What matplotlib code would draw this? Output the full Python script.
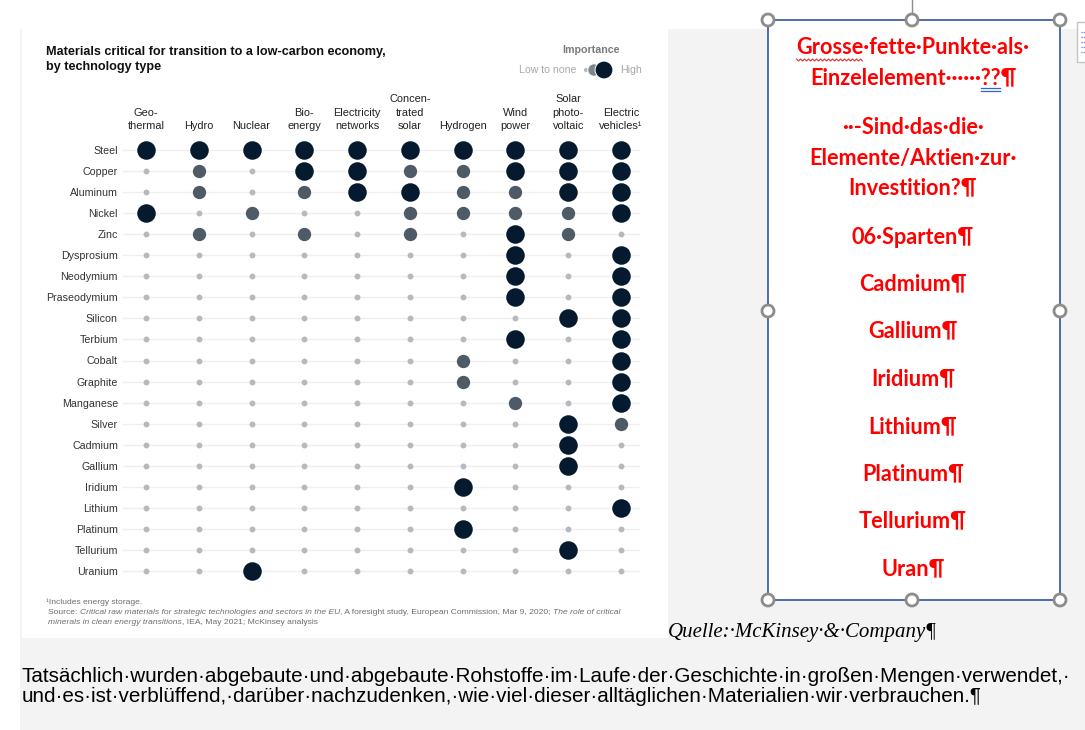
import matplotlib
matplotlib.use('Agg')
import matplotlib.pyplot as plt
from matplotlib.patches import Rectangle, Circle

techs = ['Geo-\nthermal', 'Hydro', 'Nuclear', 'Bio-\nenergy', 'Electricity\nnetworks',
         'Concen-\ntrated\nsolar', 'Hydrogen', 'Wind\npower', 'Solar\nphoto-\nvoltaic',
         'Electric\nvehicles¹']
materials = ['Steel', 'Copper', 'Aluminum', 'Nickel', 'Zinc', 'Dysprosium', 'Neodymium',
             'Praseodymium', 'Silicon', 'Terbium', 'Cobalt', 'Graphite', 'Manganese',
             'Silver', 'Cadmium', 'Gallium', 'Iridium', 'Lithium', 'Platinum',
             'Tellurium', 'Uranium']
# 0 = low to none, 1 = medium, 2 = high
importance = [
    [2, 2, 2, 2, 2, 2, 2, 2, 2, 2],
    [0, 1, 0, 2, 2, 1, 1, 2, 2, 2],
    [0, 1, 0, 1, 2, 2, 1, 1, 2, 2],
    [2, 0, 1, 0, 0, 1, 1, 1, 1, 2],
    [0, 1, 0, 1, 0, 1, 0, 2, 1, 0],
    [0, 0, 0, 0, 0, 0, 0, 2, 0, 2],
    [0, 0, 0, 0, 0, 0, 0, 2, 0, 2],
    [0, 0, 0, 0, 0, 0, 0, 2, 0, 2],
    [0, 0, 0, 0, 0, 0, 0, 0, 2, 2],
    [0, 0, 0, 0, 0, 0, 0, 2, 0, 2],
    [0, 0, 0, 0, 0, 0, 1, 0, 0, 2],
    [0, 0, 0, 0, 0, 0, 1, 0, 0, 2],
    [0, 0, 0, 0, 0, 0, 0, 1, 0, 2],
    [0, 0, 0, 0, 0, 0, 0, 0, 2, 1],
    [0, 0, 0, 0, 0, 0, 0, 0, 2, 0],
    [0, 0, 0, 0, 0, 0, 0, 0, 2, 0],
    [0, 0, 0, 0, 0, 0, 2, 0, 0, 0],
    [0, 0, 0, 0, 0, 0, 0, 0, 0, 2],
    [0, 0, 0, 0, 0, 0, 2, 0, 0, 0],
    [0, 0, 0, 0, 0, 0, 0, 0, 2, 0],
    [0, 0, 2, 0, 0, 0, 0, 0, 0, 0],
]
level_colors = ['#b6bac0', '#4e5a66', '#051a2e']
level_sizes = [18, 92, 178]

box_lines = ['Grosse·fette·Punkte·als·', 'Einzelelement······??¶', '··-Sind·das·die·',
             'Elemente/Aktien·zur·', 'Investition?¶', '06·Sparten¶', 'Cadmium¶', 'Gallium¶',
             'Iridium¶', 'Lithium¶', 'Platinum¶', 'Tellurium¶', 'Uran¶']
box_y = [47, 78, 127, 158, 188, 237, 284, 331, 379, 427, 474, 521, 569]
body_lines = ['Tatsächlich·wurden·abgebaute·und·abgebaute·Rohstoffe·im·Laufe·der·Geschichte·in·großen·Mengen·verwendet,·',
              'und·es·ist·verblüffend,·darüber·nachzudenken,·wie·viel·dieser·alltäglichen·Materialien·wir·verbrauchen.¶']

W, H = 1085, 730
fig = plt.figure(figsize=(W / 100, H / 100), dpi=100, facecolor='white')
renderer = fig.canvas.get_renderer()

page = fig.add_axes([0, 0, 1, 1], zorder=0)
page.set_xlim(0, W)
page.set_ylim(H, 0)
page.axis('off')

sans = 'Liberation Sans'


def width(s, **kw):
    t = page.text(0, 0, '|' + s + '|', **kw)
    w = t.get_window_extent(renderer).width
    t.remove()
    t = page.text(0, 0, '||', **kw)
    w -= t.get_window_extent(renderer).width
    t.remove()
    return w


def draw_runs(x, y, runs):
    for s, kw in runs:
        page.text(x, y, s, va='center', ha='left', **kw)
        x += width(s, **kw)


# page background, chart panel
page.add_patch(Rectangle((20, 29), W - 20, H - 29, color='#f3f3f3', lw=0))
page.add_patch(Rectangle((22, 29), 646, 609, color='white', lw=0))

# chart
ax = fig.add_axes([119.6 / W, 1 - 581.5 / H, 527.8 / W, 442 / H], zorder=2)
ax.set_facecolor('none')
n_rows, n_cols = len(materials), len(techs)
ax.set_xlim(-0.5, n_cols - 0.5)
ax.set_ylim(n_rows - 0.5, -0.5)
ax.hlines(range(n_rows), -0.45, 9.36, color='#efefef', lw=0.9, zorder=0, clip_on=False)
for level in range(3):
    xs = [c for r in range(n_rows) for c in range(n_cols) if importance[r][c] == level]
    ys = [r for r in range(n_rows) for c in range(n_cols) if importance[r][c] == level]
    ax.scatter(xs, ys, s=level_sizes[level], color=level_colors[level], lw=0, zorder=3)
ax.set_yticks(range(n_rows))
ax.set_yticklabels(materials, fontsize=7.7, color='#333333', family=sans)
ax.xaxis.tick_top()
ax.set_xticks(range(n_cols))
ax.set_xticklabels(techs, fontsize=7.9, color='#222222', family=sans)
for lab in ax.get_xticklabels():
    lab.set_linespacing(1.42)
ax.tick_params(axis='both', length=0)
ax.tick_params(axis='y', pad=1.2)
ax.tick_params(axis='x', pad=6)
for sp in ax.spines.values():
    sp.set_visible(False)

# title and legend
page.text(46, 52, 'Materials critical for transition to a low-carbon economy,', fontsize=9.1,
          weight='bold', color='#111111', family=sans, va='center')
page.text(46, 67, 'by technology type', fontsize=9.1, weight='bold', color='#111111',
          family=sans, va='center')
page.text(591, 50, 'Importance', fontsize=7.7, weight='bold', color='#7a7a7a', family=sans,
          ha='center', va='center')
page.text(576, 70, 'Low to none', fontsize=7.6, color='#a8a8a8', family=sans, ha='right', va='center')
page.text(620, 70, 'High', fontsize=7.6, color='#a8a8a8', family=sans, ha='left', va='center')
page.scatter([586, 594, 604], [70, 70, 70], s=[14, 80, 165], color=['#b6bac0', '#7d8790', '#051a2e'],
             lw=0.7, edgecolor='white', zorder=3)

# footnotes
fn = dict(fontsize=6.1, color='#6e6e6e', family=sans)
fni = dict(fn, style='italic')
page.text(46, 602, '¹Includes energy storage.', va='center', **fn)
draw_runs(48, 612, [('Source: ', fn),
                    ('Critical raw materials for strategic technologies and sectors in the EU', fni),
                    (', A foresight study, European Commission, Mar 9, 2020; ', fn),
                    ('The role of critical', fni)])
draw_runs(48, 622, [('minerals in clean energy transitions', fni),
                    (', IEA, May 2021; McKinsey analysis', fn)])

# text box with selection handles
page.add_patch(Rectangle((768, 20), 292, 580, facecolor='white', edgecolor='#2f5597', lw=1.2, zorder=2))
page.plot([912, 912], [0, 14], color='#8c8c8c', lw=1, zorder=3)
for hx, hy in [(768, 20), (912, 20), (1060, 20), (768, 311), (1060, 311),
               (768, 600), (912, 600), (1060, 600)]:
    page.add_patch(Circle((hx, hy), 6, facecolor='white', edgecolor='#8c8c8c', lw=2, zorder=4))
page.add_patch(Rectangle((1077, 22), 12, 40, facecolor='white', edgecolor='#c4c4c4', lw=1, zorder=2))
for yy in [32, 37, 42, 47, 52]:
    page.plot([1081, 1086], [yy, yy], color='#4472c4', lw=0.8, ls=(0, (1, 1)), zorder=3)

red = dict(fontsize=15.6, weight='bold', color='#ff0000', family='Lato')
cx = 913
for s, yy in zip(box_lines, box_y):
    page.text(cx, yy, s, ha='center', va='center', zorder=5, **red)
# spell-check wavy line under "Grosse"
x0 = cx - width(box_lines[0], **red) / 2
x1 = x0 + width('Grosse', **red)
zx, zy, k = [], [], 0
xx = x0
while xx <= x1:
    zx.append(xx)
    zy.append(59 if k % 2 == 0 else 61)
    xx += 2
    k += 1
page.plot(zx, zy, color='#e03030', lw=0.8, zorder=5)
# grammar double underline under "??"
x0 = cx - width(box_lines[1], **red) / 2 + width('Einzelelement······', **red)
x1 = x0 + width('??', **red)
page.plot([x0, x1], [88, 88], color='#2f62d8', lw=0.9, zorder=5)
page.plot([x0, x1], [90.5, 90.5], color='#2f62d8', lw=0.9, zorder=5)

page.text(668, 632, 'Quelle:·McKinsey·&·Company¶', fontsize=15, style='italic',
          family='Liberation Serif', color='black', va='center', ha='left')

body = dict(fontsize=12, color='black', family=sans)
scale = 1051 / width(body_lines[0], **body)
body['fontsize'] = 12 * scale
page.text(22, 676, body_lines[0], va='center', **body)
page.text(22, 697, body_lines[1], va='center', **body)

fig.savefig('out.png', dpi=100, facecolor='white')
